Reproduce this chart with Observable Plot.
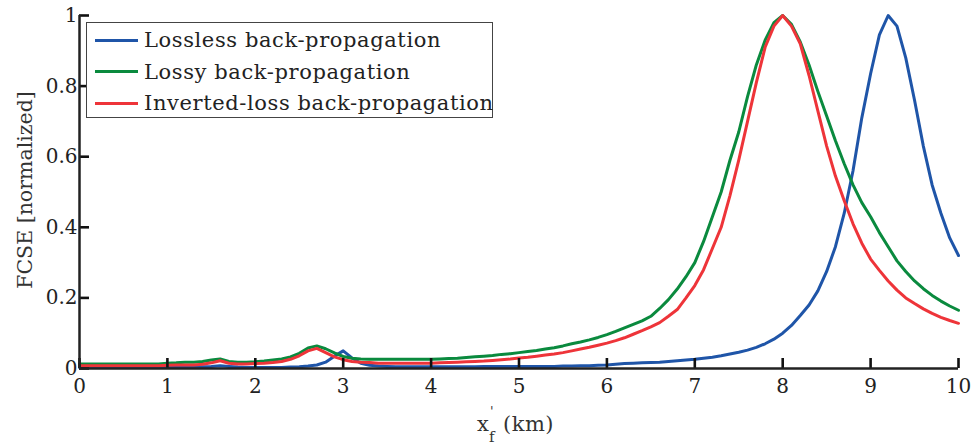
<!DOCTYPE html>
<html>
<head>
<meta charset="utf-8">
<script src="https://cdn.jsdelivr.net/npm/d3@7"></script>
<script src="https://cdn.jsdelivr.net/npm/@observablehq/plot@0.6"></script>
<style>
  body { margin: 0; background: #fff; }
  #wrap { position: relative; width: 975px; height: 446px; font-family: "DejaVu Serif", serif; color: #222; }
  #legend { position: absolute; left: 86px; top: 22px; width: 407px; height: 96px; border: 1px solid #444; background: #fff; box-sizing: border-box; }
  .row { position: absolute; left: 0; height: 30px; display: flex; align-items: center; font-size: 21px; letter-spacing: 0.6px; white-space: nowrap; color: #222; }
  .sw { display: inline-block; width: 43px; height: 3px; margin-left: 8px; margin-right: 6px; }
</style>
</head>
<body>
<div id="wrap"></div>
<script>
const seriesNames = ["Lossless back-propagation", "Lossy back-propagation", "Inverted-loss back-propagation"];
const seriesColors = ["#1f55a8", "#0a8a3e", "#ee3439"];
const xTicks = [0, 1, 2, 3, 4, 5, 6, 7, 8, 9, 10];
const yTicks = [0, 0.2, 0.4, 0.6, 0.8, 1];

const xKm = [0.0,0.1,0.2,0.3,0.4,0.5,0.6,0.7,0.8,0.9,
  1.0,1.1,1.2,1.3,1.4,1.5,1.6,1.7,1.8,1.9,
  2.0,2.1,2.2,2.3,2.4,2.5,2.6,2.7,2.8,2.9,
  3.0,3.1,3.2,3.3,3.4,3.5,3.6,3.7,3.8,3.9,
  4.0,4.1,4.2,4.3,4.4,4.5,4.6,4.7,4.8,4.9,
  5.0,5.1,5.2,5.3,5.4,5.5,5.6,5.7,5.8,5.9,
  6.0,6.1,6.2,6.3,6.4,6.5,6.6,6.7,6.8,6.9,
  7.0,7.1,7.2,7.3,7.4,7.5,7.6,7.7,7.8,7.9,
  8.0,8.1,8.2,8.3,8.4,8.5,8.6,8.7,8.8,8.9,
  9.0,9.1,9.2,9.3,9.4,9.5,9.6,9.7,9.8,9.9,10.0];

const lossless = [0.003,0.003,0.003,0.003,0.003,0.003,0.003,0.003,0.003,0.003,
  0.003,0.003,0.003,0.004,0.005,0.006,0.008,0.006,0.004,0.003,
  0.003,0.003,0.003,0.003,0.004,0.005,0.007,0.010,0.018,0.035,
  0.050,0.030,0.015,0.009,0.007,0.006,0.005,0.005,0.005,0.005,
  0.005,0.005,0.005,0.005,0.005,0.005,0.006,0.006,0.006,0.006,
  0.006,0.006,0.006,0.006,0.006,0.007,0.007,0.008,0.008,0.009,
  0.010,0.012,0.014,0.015,0.016,0.017,0.018,0.020,0.022,0.024,
  0.026,0.029,0.032,0.036,0.041,0.046,0.052,0.060,0.070,0.083,
  0.100,0.122,0.150,0.180,0.220,0.275,0.345,0.440,0.560,0.710,
  0.835,0.945,1.000,0.970,0.880,0.760,0.630,0.520,0.440,0.370,0.320];

const lossy = [0.013,0.013,0.013,0.013,0.013,0.013,0.013,0.013,0.013,0.013,
  0.015,0.016,0.018,0.018,0.020,0.024,0.027,0.020,0.018,0.018,
  0.019,0.021,0.024,0.027,0.033,0.043,0.058,0.064,0.056,0.044,
  0.034,0.029,0.027,0.026,0.026,0.026,0.026,0.026,0.026,0.026,
  0.026,0.027,0.028,0.029,0.031,0.033,0.035,0.037,0.040,0.042,
  0.045,0.048,0.051,0.055,0.059,0.064,0.070,0.075,0.081,0.088,
  0.096,0.105,0.115,0.125,0.135,0.148,0.170,0.195,0.225,0.260,
  0.300,0.360,0.430,0.500,0.590,0.670,0.770,0.860,0.930,0.980,
  1.000,0.975,0.925,0.860,0.785,0.715,0.645,0.580,0.520,0.470,
  0.430,0.385,0.345,0.305,0.275,0.248,0.226,0.207,0.191,0.177,0.165];

const invertedLoss = [0.008,0.008,0.008,0.008,0.008,0.008,0.008,0.008,0.008,0.008,
  0.009,0.010,0.010,0.010,0.012,0.016,0.022,0.015,0.013,0.013,
  0.014,0.015,0.017,0.020,0.026,0.036,0.050,0.057,0.045,0.033,
  0.025,0.020,0.018,0.017,0.015,0.015,0.015,0.015,0.015,0.015,
  0.015,0.016,0.017,0.018,0.019,0.020,0.021,0.023,0.025,0.027,
  0.030,0.032,0.035,0.038,0.041,0.045,0.050,0.055,0.060,0.066,
  0.072,0.079,0.087,0.097,0.107,0.118,0.130,0.148,0.167,0.200,
  0.235,0.280,0.340,0.400,0.490,0.590,0.700,0.810,0.910,0.970,
  1.000,0.970,0.920,0.830,0.730,0.630,0.545,0.475,0.410,0.355,
  0.310,0.278,0.248,0.222,0.200,0.184,0.169,0.156,0.145,0.136,0.128];

const allSeries = [lossless, lossy, invertedLoss];
const rows = [];
allSeries.forEach((vals, s) => vals.forEach((v, i) => rows.push({x: xKm[i], y: v, series: seriesNames[s]})));

const font = "DejaVu Serif, serif";
const ink = "#222";
const W = 975, H = 446, ML = 79, MR = 17, MT = 15, MB = 78, TICK = 10;
const xDomain = [0, 10], yDomain = [0, 1];
// library scales convert the inward tick length (pixels) into data units
const xs = Plot.scale({x: {domain: xDomain, range: [ML, W - MR]}});
const ys = Plot.scale({y: {domain: yDomain, range: [H - MB, MT]}});
const xTickEnd = xs.invert(ML + TICK);
const yTickEnd = ys.invert(H - MB - TICK);

const chart = Plot.plot({
  width: W,
  height: H,
  marginLeft: ML,
  marginRight: MR,
  marginTop: MT,
  marginBottom: MB,
  style: {fontFamily: font, fontSize: "20px", color: ink, background: "#fff"},
  x: {domain: xDomain},
  y: {domain: yDomain},
  color: {domain: seriesNames, range: seriesColors},
  marks: [
    Plot.axisX({ticks: xTicks, tickSize: 0, tickPadding: 10, label: null, tickFormat: d => String(d), fill: ink}),
    Plot.axisY({ticks: yTicks, tickSize: 0, tickPadding: 2, label: null, tickFormat: d => String(d), fill: ink}),
    Plot.line(rows, {x: "x", y: "y", z: "series", stroke: "series", strokeWidth: 3, strokeLinejoin: "round"}),
    Plot.ruleX(xTicks, {x: d => d, y1: yDomain[0], y2: yTickEnd, stroke: "#111", strokeWidth: 2.6}),
    Plot.ruleY(yTicks, {y: d => d, x1: xDomain[0], x2: xTickEnd, stroke: "#111", strokeWidth: 2.6}),
    Plot.ruleY([0], {stroke: ink, strokeWidth: 2.5}),
    Plot.ruleX([0], {stroke: ink, strokeWidth: 2.5})
  ]
});

const wrap = document.getElementById("wrap");
wrap.appendChild(chart);

// axis titles
const svg = d3.select(chart);
const xt = svg.append("text")
  .attr("x", 477).attr("y", 431)
  .attr("text-anchor", "start")
  .attr("fill", "#333")
  .style("font-family", font).style("font-size", "21px");
xt.append("tspan").text("x");
xt.append("tspan").attr("x", 490).attr("y", 416).style("font-size", "13px").text("'");
xt.append("tspan").attr("x", 489).attr("y", 442).style("font-size", "15px").text("f");
xt.append("tspan").attr("x", 503).attr("y", 431).style("letter-spacing", "0.5px").text("(km)");

svg.append("text")
  .attr("transform", "translate(32,190) rotate(-90)")
  .attr("text-anchor", "middle")
  .attr("fill", "#333")
  .style("font-family", font).style("font-size", "20.5px")
  .text("FCSE [normalized]");

// legend
const legend = document.createElement("div");
legend.id = "legend";
seriesNames.forEach((name, i) => {
  const r = document.createElement("div");
  r.className = "row";
  r.style.top = (2 + i * 31.5) + "px";
  const sw = document.createElement("span");
  sw.className = "sw";
  sw.style.background = seriesColors[i];
  r.appendChild(sw);
  const t = document.createElement("span");
  t.textContent = name;
  r.appendChild(t);
  legend.appendChild(r);
});
wrap.appendChild(legend);
</script>
</body>
</html>
